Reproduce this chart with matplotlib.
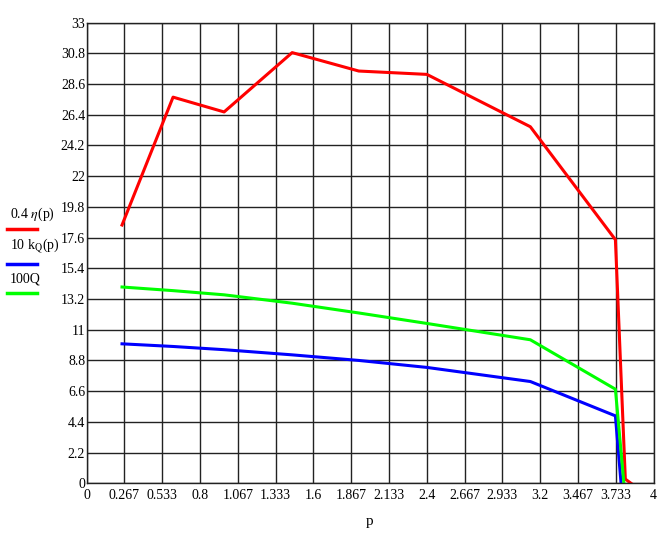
import matplotlib
matplotlib.use("Agg")
import matplotlib.pyplot as plt
import numpy as np

# data
p_red = [0.25, 0.61, 0.97, 1.45, 1.92, 2.40, 3.13, 3.73, 3.80, 3.84]
eta04 = [18.5, 27.66, 26.6, 30.85, 29.53, 29.29, 25.54, 17.45, 0.3, 0.0]

p_green = [0.25, 0.61, 0.97, 1.45, 1.92, 2.40, 3.13, 3.73, 3.79]
q100 = [14.06, 13.8, 13.5, 12.9, 12.2, 11.45, 10.28, 6.74, 0.0]

p_blue = [0.25, 0.61, 0.97, 1.45, 1.92, 2.40, 3.13, 3.73, 3.77]
kq10 = [9.99, 9.8, 9.57, 9.2, 8.8, 8.3, 7.29, 4.83, 0.0]

xticks = [0, 0.267, 0.533, 0.8, 1.067, 1.333, 1.6, 1.867, 2.133, 2.4, 2.667,
          2.933, 3.2, 3.467, 3.733, 4]
xlabels = ["0", "0.267", "0.533", "0.8", "1.067", "1.333", "1.6", "1.867", "2.133",
           "2.4", "2.667", "2.933", "3.2", "3.467", "3.733", "4"]
yticks = [0, 2.2, 4.4, 6.6, 8.8, 11, 13.2, 15.4, 17.6, 19.8, 22, 24.2, 26.4, 28.6, 30.8, 33]
ylabels = ["0", "2.2", "4.4", "6.6", "8.8", "11", "13.2", "15.4", "17.6", "19.8", "22",
           "24.2", "26.4", "28.6", "30.8", "33"]

plt.rcParams['font.family'] = ['Liberation Serif', 'DejaVu Serif']

fig = plt.figure(figsize=(6.66, 5.38), dpi=100)
ax = fig.add_axes([0.130, 0.1017, 0.8515, 0.8563])

ax.plot(p_red, eta04, color='#ff0000', lw=2.2, solid_joinstyle='round')
ax.plot(p_blue, kq10, color='#0000ff', lw=2.2, solid_joinstyle='round')
ax.plot(p_green, q100, color='#00ff00', lw=2.2, solid_joinstyle='round')

ax.set_xlim(0, 4)
ax.set_ylim(0, 33)
ax.set_xticks(xticks)
ax.set_xticklabels(xlabels, fontsize=10)
ax.set_yticks(yticks)
ax.set_yticklabels(ylabels, fontsize=10)
ax.tick_params(length=0, pad=4)
ax.tick_params(axis='y', pad=1)
ax.grid(True, color='#222222', lw=1.0)
ax.set_axisbelow(True)
for s in ax.spines.values():
    s.set_color('#222222')
    s.set_linewidth(1.0)

fig.text(370 / 666, 1 - 522 / 538, "p", fontsize=11, ha='center', va='center')

# legend on the left
def px(x, y):
    return x / 666, 1 - y / 538

entries = [("0.4 $\\eta$(p)", 214, 229, '#ff0000'),
           ("10 k$_{\\mathrm{Q}}$(p)", 246, 264, '#0000ff'),
           ("100Q", 279, 293, '#00ff00')]
plt.rcParams['mathtext.fontset'] = 'stix'
for label, ty, ly, col in entries:
    fig.text(*px(10, ty), label, fontsize=10, ha='left', va='center')
    fig.add_artist(plt.Line2D([7 / 666, 37 / 666], [1 - ly / 538, 1 - ly / 538],
                              color=col, lw=2.5, transform=fig.transFigure))

fig.savefig("out.png", dpi=100)
